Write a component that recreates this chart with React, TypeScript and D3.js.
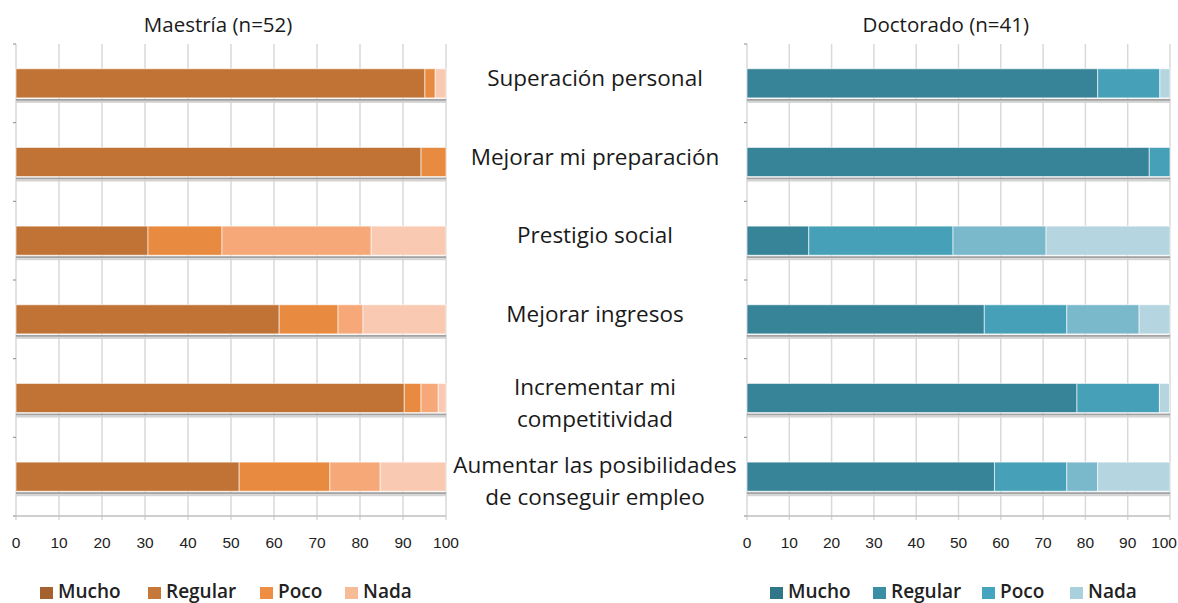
import React from "react";
import * as d3 from "d3";

// ---------- data ----------
const categories = [
  "Superación personal",
  "Mejorar mi preparación",
  "Prestigio social",
  "Mejorar ingresos",
  "Incrementar mi\ncompetitividad",
  "Aumentar las posibilidades\nde conseguir empleo",
];
const levels = ["Mucho", "Regular", "Poco", "Nada"];

const maestriaMucho = [95.1, 94.2, 30.7, 61.2, 90.3, 51.9];
const maestriaRegular = [2.4, 5.8, 17.2, 13.7, 3.9, 21.1];
const maestriaPoco = [0, 0, 34.7, 5.8, 4.0, 11.7];
const maestriaNada = [2.5, 0, 17.4, 19.3, 1.8, 15.3];

const doctoradoMucho = [82.9, 95.1, 14.6, 56.1, 78.0, 58.5];
const doctoradoRegular = [14.7, 4.9, 34.1, 19.5, 19.5, 17.1];
const doctoradoPoco = [0, 0, 22.0, 17.1, 0, 7.3];
const doctoradoNada = [2.4, 0, 29.3, 7.3, 2.4, 17.1];

const xTicks = [0, 10, 20, 30, 40, 50, 60, 70, 80, 90, 100];

// ---------- styles ----------
const W = 1178;
const H = 603;
const Y0 = 44;
const Y1 = 516;

const maestriaColors = ["#c07335", "#e88b41", "#f6a878", "#f9c9b1"];
const maestriaLegendColors = ["#a5622e", "#c6783a", "#ee8e44", "#f8bb98"];
const doctoradoColors = ["#378397", "#46a0b8", "#7ab8cc", "#b5d5e0"];
const doctoradoLegendColors = ["#2f7688", "#3b8fa5", "#45a5bf", "#a9d0dd"];

type PanelProps = {
  title: string;
  x0: number;
  x1: number;
  series: number[][];
  colors: string[];
};

const yScale = d3
  .scaleBand<number>()
  .domain(categories.map((_, i) => i))
  .range([Y0, Y1])
  .paddingInner(0.63)
  .paddingOuter(0.315);

const bandStep = (Y1 - Y0) / categories.length;

function Panel({ title, x0, x1, series, colors }: PanelProps) {
  const x = d3.scaleLinear().domain([0, 100]).range([x0, x1]);
  const stack = categories.map((_, i) => {
    let acc = 0;
    return series.map((s, k) => {
      const start = acc;
      acc += s[i];
      return { k, start, end: acc };
    });
  });
  const boundaries = d3.range(categories.length + 1).map((i) => Y0 + i * bandStep);
  return (
    <g>
      <text
        x={x0 + (x1 - x0) * 0.47}
        y={32}
        textAnchor="middle"
        fontFamily="'Open Sans', sans-serif"
        fontSize={20.5}
        fill="#1a1a1a"
      >
        {title}
      </text>
      {xTicks.map((t) => (
        <line
          key={"g" + t}
          x1={x(t)}
          x2={x(t)}
          y1={Y0}
          y2={Y1 + 4}
          stroke="#d9d9d9"
          strokeWidth={1.5}
        />
      ))}
      {boundaries.map((b, i) => (
        <line key={"lt" + i} x1={x0 - 3} x2={x0} y1={b} y2={b} stroke="#8a8a8a" strokeWidth={1} />
      ))}
      <line x1={x0 - 3} x2={x1} y1={Y1} y2={Y1} stroke="#bfbfbf" strokeWidth={1.5} />
      {categories.map((_, i) => {
        const y = yScale(i)!;
        const bh = yScale.bandwidth();
        return (
          <g key={"r" + i}>
            <rect x={x0} y={y + bh + 1} width={x(100) - x0} height={2} fill="#a3a3a3" />
            <rect x={x0} y={y + bh + 3} width={x(100) - x0} height={2} fill="#d4d4d4" />
            {stack[i]
              .filter((s) => s.end - s.start > 0)
              .map((s) => (
                <rect
                  key={s.k}
                  x={x(s.start)}
                  y={y}
                  width={x(s.end) - x(s.start)}
                  height={bh}
                  fill={colors[s.k]}
                  stroke="#ffffff"
                  strokeOpacity={0.6}
                  strokeWidth={1}
                />
              ))}
          </g>
        );
      })}
      {xTicks.map((t) => {
        const label = String(t);
        const half = label.length * 4.4;
        const overflow = x(t) + half > W - 1;
        return (
          <text
            key={"t" + t}
            x={overflow ? W - 1 : x(t)}
            y={548}
            textAnchor={overflow ? "end" : "middle"}
            fontFamily="'Liberation Sans', Arial, sans-serif"
            fontSize={15.5}
            fill="#222"
          >
            {label}
          </text>
        );
      })}
    </g>
  );
}

function Legend({
  squares,
  colors,
}: {
  squares: number[];
  colors: string[];
}) {
  return (
    <g>
      {levels.map((l, i) => (
        <g key={l}>
          <rect x={squares[i]} y={587} width={13} height={12} fill={colors[i]} />
          <text
            x={squares[i] + 18}
            y={598}
            fontFamily="'Open Sans', sans-serif"
            fontWeight={600}
            fontSize={19}
            fill="#222"
          >
            {l}
          </text>
        </g>
      ))}
    </g>
  );
}

export default function App() {
  const labelX = 595;
  return (
    <svg
      width={W}
      height={H}
      style={{ position: "absolute", left: 0, top: 0, background: "#fff" }}
    >
      <rect width={W} height={H} fill="#fff" />
      <Panel
        title="Maestría (n=52)"
        x0={16}
        x1={446}
        series={[maestriaMucho, maestriaRegular, maestriaPoco, maestriaNada]}
        colors={maestriaColors}
      />
      <Panel
        title="Doctorado (n=41)"
        x0={747}
        x1={1170}
        series={[doctoradoMucho, doctoradoRegular, doctoradoPoco, doctoradoNada]}
        colors={doctoradoColors}
      />
      {categories.map((c, i) => {
        const lines = c.split("\n");
        const center = yScale(i)! + yScale.bandwidth() / 2;
        const mid = lines.length === 1 ? center - 6 : center + 4;
        const lh = 32;
        return (
          <text
            key={"c" + i}
            textAnchor="middle"
            fontFamily="'Open Sans', sans-serif"
            fontSize={22.5}
            fill="#1a1a1a"
          >
            {lines.map((ln, j) => (
              <tspan
                key={j}
                x={labelX}
                y={mid + (j - (lines.length - 1) / 2) * lh}
                dominantBaseline="central"
              >
                {ln}
              </tspan>
            ))}
          </text>
        );
      })}
      <Legend squares={[40, 148, 260, 345]} colors={maestriaLegendColors} />
      <Legend squares={[770, 873, 982, 1070]} colors={doctoradoLegendColors} />
    </svg>
  );
}
